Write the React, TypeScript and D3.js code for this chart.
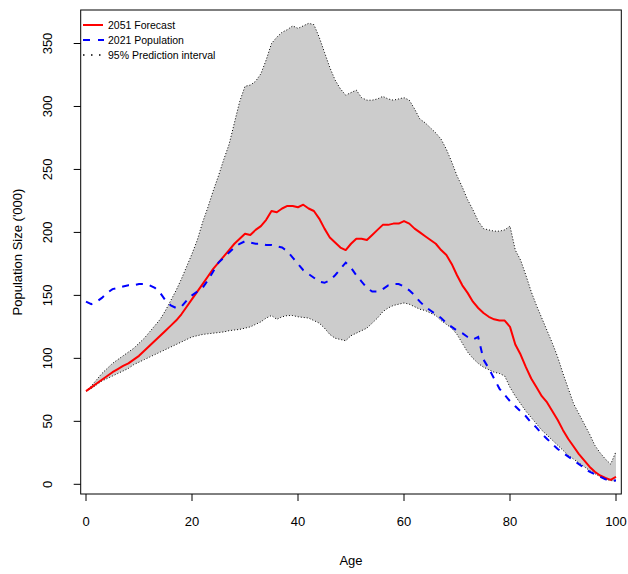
import React from "react";
import * as d3 from "d3";

const ages: number[] = d3.range(0, 101);

const forecast2051: number[] = [
  74, 77, 80, 83, 86, 89, 91.5, 94, 96, 99,
  102, 106, 110, 114, 118, 122, 126, 130, 135, 141,
  147, 153, 159, 165, 171, 176, 181, 186, 191, 195,
  199, 198, 202, 205, 210, 217, 216, 219, 221, 221,
  220, 222, 219, 217, 211, 203, 196, 192, 188, 186,
  191, 195, 195, 194, 198, 202, 206, 206, 207, 207,
  209, 207, 203, 200, 197, 194, 191, 186, 182, 175,
  166, 158, 152, 145, 140, 136, 133, 131, 130, 130,
  125, 111, 103, 93, 84, 77, 70, 65, 58, 51,
  43, 36, 30, 24, 19, 14, 10, 7, 5, 3.5,
  6,
];

const population2021: number[] = [
  145, 143, 145, 148, 152, 155, 156, 157, 158, 158,
  159, 159, 158, 156, 152, 146, 142, 140, 141, 146,
  150, 153, 156, 162, 169, 176, 180, 184, 188, 191,
  193, 192, 191, 191, 190, 190, 189, 188, 185, 180,
  175, 170, 167, 164, 161, 160, 162, 166, 171, 176,
  172, 166, 161, 156, 153, 153, 155, 158, 159, 159,
  157, 154, 150, 145, 141, 138, 135, 132, 128, 125,
  122, 120, 117, 115, 117, 99, 92, 84, 76, 71,
  66, 62, 58, 54, 49, 45, 40, 36, 32, 28,
  25, 22, 19, 16, 13, 10, 8, 6, 4, 3,
  3,
];

const upper95: number[] = [
  74, 78, 83, 88, 92, 96, 99, 102, 105, 108,
  112, 116, 121, 126, 131, 138, 146, 154, 163, 173,
  183, 194, 208, 220, 233, 245, 258, 270, 287, 304,
  316, 317, 320, 326, 337, 350, 355, 359, 361, 364,
  362, 364, 366, 365, 355, 343, 331, 321, 314, 309,
  311, 313, 307, 305, 305, 306, 308, 306, 305, 306,
  307, 305, 298, 290, 287, 283, 279, 274, 266, 256,
  245, 236, 226, 218, 209, 203, 202, 201, 201, 202,
  205, 186, 178, 166, 153, 142, 132, 122, 112, 101,
  88, 76, 64, 56, 48, 40, 31, 25, 20, 16,
  26,
];

const lower95: number[] = [
  74, 76, 79, 82, 84, 86, 88, 90, 92, 95,
  97, 99, 101, 103, 105, 107, 109, 111, 113, 115,
  117, 118, 119, 119.5, 120, 120.5, 121, 122, 122.5, 123,
  124, 125, 127, 129, 132, 134, 131, 133, 134, 134,
  133, 132.5, 132, 130, 128, 124, 119, 116, 115, 114,
  118, 120, 122, 124, 128, 132, 137, 140, 142, 143,
  144, 143, 141, 139, 138, 136, 134, 130, 127, 124,
  119, 112, 105, 100, 96, 93, 91, 89, 88, 86,
  77, 70, 64, 58, 53, 48, 43, 39, 35, 31,
  27, 23, 20, 17, 14, 11, 8.5, 6, 4, 3,
  2.5,
];

const xTicks: number[] = [0, 20, 40, 60, 80, 100];
const yTicks: number[] = [0, 50, 100, 150, 200, 250, 300, 350];

const legendLabels: string[] = ["2051 Forecast", "2021 Population", "95% Prediction interval"];

const W = 628;
const H = 574;
const FONT = "'Liberation Sans', Arial, Helvetica, sans-serif";

export default function App() {
  const left = 80.7;
  const right = 621.3;
  const top = 10;
  const bottom = 494;

  const x = d3.scaleLinear().domain([-1, 101]).range([left, right]);
  const y = d3.scaleLinear().domain([-7.7, 376.6]).range([bottom, top]);

  const bandData = ages.map((a, i) => ({ a, lo: lower95[i], hi: upper95[i] }));
  const area = d3
    .area<{ a: number; lo: number; hi: number }>()
    .x((d) => x(d.a))
    .y0((d) => y(d.lo))
    .y1((d) => y(d.hi));

  const line = d3
    .line<number>()
    .x((_, i) => x(ages[i]))
    .y((d) => y(d));

  const upperLine = line(upper95) || "";
  const lowerLine = line(lower95) || "";

  return (
    <svg
      width={W}
      height={H}
      viewBox={`0 0 ${W} ${H}`}
      style={{ position: "absolute", left: 0, top: 0, background: "#fff" }}
      fontFamily={FONT}
    >
      <rect x={0} y={0} width={W} height={H} fill="#fff" />
      <path d={area(bandData) || ""} fill="#CCCCCC" stroke="none" />
      <path d={upperLine} fill="none" stroke="#000" strokeWidth={1} strokeDasharray="1 2" />
      <path d={lowerLine} fill="none" stroke="#000" strokeWidth={1} strokeDasharray="1 2" />
      <path d={line(forecast2051) || ""} fill="none" stroke="#FF0000" strokeWidth={2} strokeLinejoin="round" />
      <path
        d={line(population2021) || ""}
        fill="none"
        stroke="#0000FF"
        strokeWidth={2}
        strokeDasharray="7 7"
      />

      {/* box */}
      <rect x={left} y={top} width={right - left} height={bottom - top} fill="none" stroke="#000" strokeWidth={1} />

      {/* x axis */}
      {xTicks.map((t) => (
        <g key={"x" + t}>
          <line x1={x(t)} x2={x(t)} y1={bottom} y2={bottom + 7} stroke="#000" strokeWidth={1} />
          <text x={x(t)} y={525.5} textAnchor="middle" fontSize={13} fill="#000">
            {t}
          </text>
        </g>
      ))}
      <text x={(left + right) / 2} y={565} textAnchor="middle" fontSize={13} fill="#000">
        Age
      </text>

      {/* y axis */}
      {yTicks.map((t) => (
        <g key={"y" + t}>
          <line x1={left - 7} x2={left} y1={y(t)} y2={y(t)} stroke="#000" strokeWidth={1} />
          <text
            transform={`translate(52,${y(t)}) rotate(-90)`}
            textAnchor="middle"
            fontSize={13}
            fill="#000"
          >
            {t}
          </text>
        </g>
      ))}
      <text
        transform={`translate(22,${(top + bottom) / 2}) rotate(-90)`}
        textAnchor="middle"
        fontSize={13}
        fill="#000"
      >
        Population Size ('000)
      </text>

      {/* legend */}
      <g fontSize={10.5}>
        <line x1={83} x2={103} y1={25} y2={25} stroke="#FF0000" strokeWidth={2} />
        <text x={108} y={28.8} fill="#000">{legendLabels[0]}</text>
        <line x1={83} x2={104} y1={40} y2={40} stroke="#0000FF" strokeWidth={2} strokeDasharray="7 8" />
        <text x={108} y={43.8} fill="#000">{legendLabels[1]}</text>
        <line x1={83} x2={104} y1={55} y2={55} stroke="#000" strokeWidth={1.5} strokeDasharray="1.5 6.5" />
        <text x={108} y={58.8} fill="#000">{legendLabels[2]}</text>
      </g>
    </svg>
  );
}
